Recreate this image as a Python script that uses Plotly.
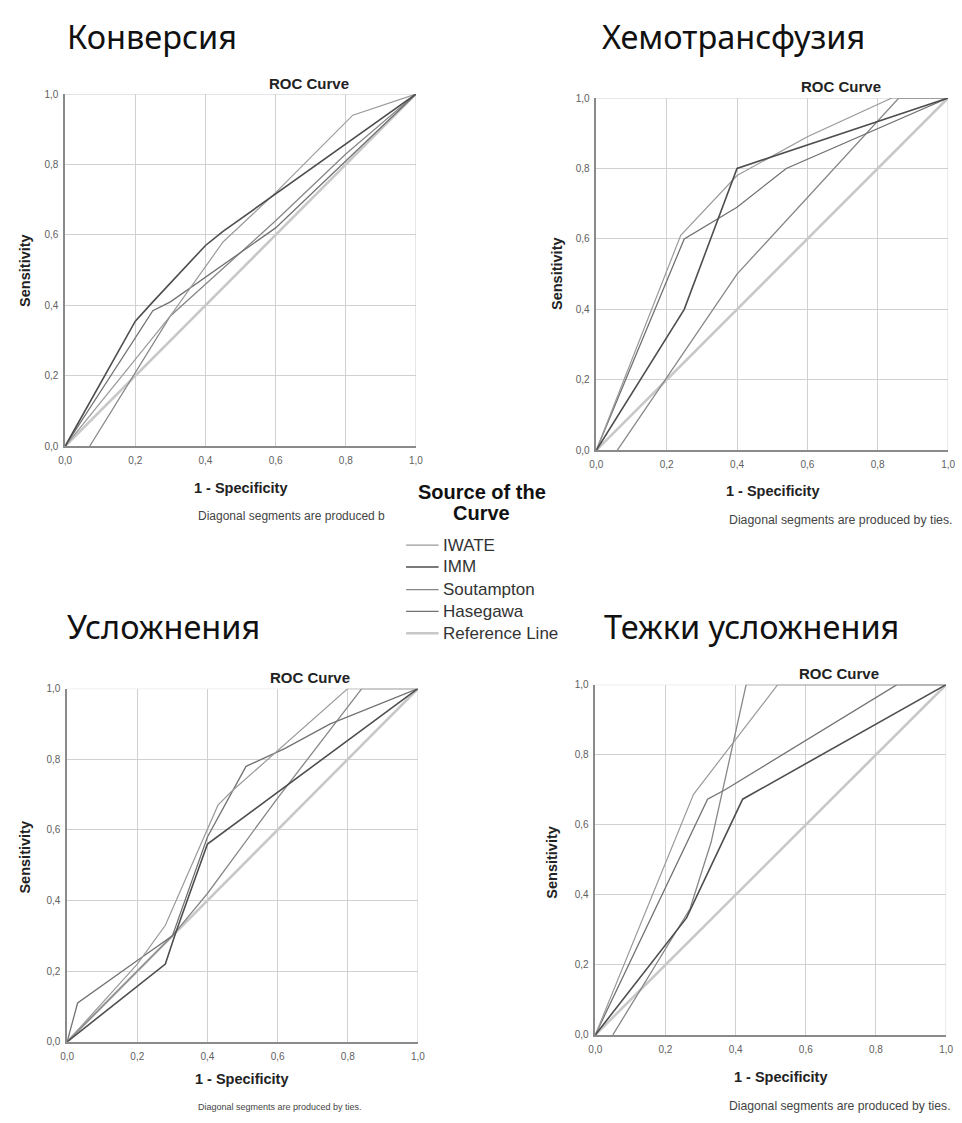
import plotly.graph_objects as go

W, H = 962, 1123

# Tick positions / labels (comma decimal)
TICKS = [0.0, 0.2, 0.4, 0.6, 0.8, 1.0]
TICK_LABELS = ["0,0", "0,2", "0,4", "0,6", "0,8", "1,0"]

SERIES = ["IWATE", "IMM", "Soutampton", "Hasegawa", "Reference Line"]
COLORS = {"IWATE": "#9a9a9a", "IMM": "#4e4e4e", "Soutampton": "#878787",
          "Hasegawa": "#727272", "Reference Line": "#c8c8c8"}
WIDTHS = {"IWATE": 1.2, "IMM": 1.6, "Soutampton": 1.3, "Hasegawa": 1.3,
          "Reference Line": 2.6}

REF_X = [0.0, 1.0]
REF_Y = [0.0, 1.0]

# Конверсия
conv_iwate_x = [0.0, 0.30, 0.40, 0.45, 0.60, 0.82, 1.0]
conv_iwate_y = [0.0, 0.37, 0.51, 0.58, 0.72, 0.94, 1.0]
conv_imm_x = [0.0, 0.20, 0.25, 0.40, 0.45, 1.0]
conv_imm_y = [0.0, 0.355, 0.41, 0.57, 0.61, 1.0]
conv_sout_x = [0.07, 0.30, 0.40, 0.60, 0.80, 1.0]
conv_sout_y = [0.0, 0.37, 0.46, 0.64, 0.83, 1.0]
conv_hase_x = [0.0, 0.25, 0.30, 0.40, 0.60, 0.80, 1.0]
conv_hase_y = [0.0, 0.385, 0.41, 0.48, 0.62, 0.81, 1.0]

# Хемотрансфузия
hemo_iwate_x = [0.0, 0.24, 0.40, 0.60, 0.84, 1.0]
hemo_iwate_y = [0.0, 0.61, 0.78, 0.89, 1.0, 1.0]
hemo_imm_x = [0.0, 0.25, 0.40, 1.0]
hemo_imm_y = [0.0, 0.40, 0.80, 1.0]
hemo_sout_x = [0.06, 0.40, 0.86, 1.0]
hemo_sout_y = [0.0, 0.50, 1.0, 1.0]
hemo_hase_x = [0.0, 0.25, 0.40, 0.54, 1.0]
hemo_hase_y = [0.0, 0.60, 0.69, 0.80, 1.0]

# Усложнения
comp_iwate_x = [0.0, 0.20, 0.28, 0.43, 0.47, 0.80, 1.0]
comp_iwate_y = [0.0, 0.22, 0.33, 0.67, 0.71, 1.0, 1.0]
comp_imm_x = [0.0, 0.28, 0.31, 0.40, 1.0]
comp_imm_y = [0.0, 0.22, 0.31, 0.56, 1.0]
comp_sout_x = [0.0, 0.30, 0.40, 0.60, 0.84, 1.0]
comp_sout_y = [0.0, 0.30, 0.42, 0.69, 1.0, 1.0]
comp_hase_x = [0.0, 0.03, 0.20, 0.30, 0.40, 0.51, 0.62, 0.75, 1.0]
comp_hase_y = [0.0, 0.11, 0.23, 0.30, 0.58, 0.78, 0.83, 0.90, 1.0]

# Тежки усложнения
sev_iwate_x = [0.0, 0.28, 0.52, 1.0]
sev_iwate_y = [0.0, 0.687, 1.0, 1.0]
sev_imm_x = [0.0, 0.26, 0.42, 1.0]
sev_imm_y = [0.0, 0.334, 0.673, 1.0]
sev_sout_x = [0.05, 0.27, 0.33, 0.43, 1.0]
sev_sout_y = [0.0, 0.36, 0.55, 1.0, 1.0]
sev_hase_x = [0.0, 0.32, 0.37, 0.86, 1.0]
sev_hase_y = [0.0, 0.673, 0.70, 1.0, 1.0]

PANELS = [
    {"title": "Конверсия", "note": "Diagonal segments are produced b",
     "box": (59, 415, 89, 445),
     "curves": {"IWATE": (conv_iwate_x, conv_iwate_y), "IMM": (conv_imm_x, conv_imm_y),
                "Soutampton": (conv_sout_x, conv_sout_y), "Hasegawa": (conv_hase_x, conv_hase_y)}},
    {"title": "Хемотрансфузия", "note": "Diagonal segments are produced by ties.",
     "box": (598, 955, 93, 449),
     "curves": {"IWATE": (hemo_iwate_x, hemo_iwate_y), "IMM": (hemo_imm_x, hemo_imm_y),
                "Soutampton": (hemo_sout_x, hemo_sout_y), "Hasegawa": (hemo_hase_x, hemo_hase_y)}},
    {"title": "Усложнения", "note": "Diagonal segments are produced by ties.",
     "box": (61, 417, 690, 1047),
     "curves": {"IWATE": (comp_iwate_x, comp_iwate_y), "IMM": (comp_imm_x, comp_imm_y),
                "Soutampton": (comp_sout_x, comp_sout_y), "Hasegawa": (comp_hase_x, comp_hase_y)}},
    {"title": "Тежки усложнения", "note": "Diagonal segments are produced by ties.",
     "box": (597, 953, 686, 1040),
     "curves": {"IWATE": (sev_iwate_x, sev_iwate_y), "IMM": (sev_imm_x, sev_imm_y),
                "Soutampton": (sev_sout_x, sev_sout_y), "Hasegawa": (sev_hase_x, sev_hase_y)}},
]

# text placements in pixels (centres)
TEXT_POS = [
    dict(title=(147, 31), roc=(306, 78), xt=(237, 487), note=(289, 516), yt=(18, 267)),
    dict(title=(737, 31), roc=(846, 81), xt=(777, 490), note=(846, 520), yt=(558, 270)),
    dict(title=(159, 627), roc=(307, 679), xt=(238, 1085), note=(277, 1113), yt=(18, 860)),
    dict(title=(756, 627), roc=(844, 675), xt=(785, 1083), note=(845, 1112), yt=(553, 865)),
]
NOTE_SIZES = [12, 12.3, 9, 12.2]

def px(x):
    return x / W

def py(y):
    return 1 - y / H

def note(text, x, y, size, bold=False, family="Liberation Sans, Arial", color="#222222",
         xanchor="center", angle=0):
    return dict(text=f"<b>{text}</b>" if bold else text, x=px(x), y=py(y),
                xref="paper", yref="paper", xanchor=xanchor, yanchor="middle",
                textangle=angle, showarrow=False, align="center",
                font=dict(family=family, size=size, color=color))

fig = go.Figure()
annotations = []
shapes = []

for i, p in enumerate(PANELS):
    n = i + 1
    xa = "x" if n == 1 else f"x{n}"
    ya = "y" if n == 1 else f"y{n}"
    x0, x1, y0, y1 = p["box"]
    axis_common = dict(range=[0, 1], tickvals=TICKS, ticktext=TICK_LABELS,
                       showgrid=True, gridcolor="#d0d0d0", gridwidth=1,
                       zeroline=False, showline=True, linecolor="#8a8a8a",
                       linewidth=1.5, ticks="", fixedrange=True,
                       tickfont=dict(family="Liberation Sans, Arial", size=10, color="#606060"))
    fig.update_layout(**{
        ("xaxis" if n == 1 else f"xaxis{n}"): dict(domain=[px(x0), px(x1)], anchor=ya,
                                                    ticklabelstandoff=4, **axis_common),
        ("yaxis" if n == 1 else f"yaxis{n}"): dict(domain=[py(y1), py(y0)], anchor=xa,
                                                    ticklabelstandoff=3, **axis_common),
    })
    # grid lines along the far edges of the plot square
    shapes.append(dict(type="line", xref=xa, yref=f"{ya} domain", x0=1, x1=1, y0=0, y1=1,
                       line=dict(color="#d0d0d0", width=1), layer="below"))
    shapes.append(dict(type="line", xref=f"{xa} domain", yref=ya, x0=0, x1=1, y0=1, y1=1,
                       line=dict(color="#d0d0d0", width=1), layer="below"))
    # reference line first, under the curves
    fig.add_trace(go.Scatter(x=REF_X, y=REF_Y, mode="lines", xaxis=xa, yaxis=ya,
                             line=dict(color=COLORS["Reference Line"], width=WIDTHS["Reference Line"]),
                             name="Reference Line", showlegend=False, hoverinfo="skip"))
    for s in ["Soutampton", "Hasegawa", "IWATE", "IMM"]:
        cx, cy = p["curves"][s]
        fig.add_trace(go.Scatter(x=cx, y=cy, mode="lines", xaxis=xa, yaxis=ya,
                                 line=dict(color=COLORS[s], width=WIDTHS[s]),
                                 name=s, showlegend=False))
    t = TEXT_POS[i]
    annotations.append(note(p["title"], *t["title"], 32.5, family="Noto Sans", color="#111111"))
    annotations.append(note("ROC Curve", *t["roc"], 15, bold=True))
    annotations.append(note("1 - Specificity", *t["xt"], 14.5, bold=True))
    annotations.append(note(p["note"], *t["note"], NOTE_SIZES[i], color="#444444"))
    annotations.append(note("Sensitivity", *t["yt"], 14.5, bold=True, angle=-90))

# legend drawn between the panels
annotations.append(note("Source of the", 482, 491, 20, bold=True, color="#111111"))
annotations.append(note("Curve", 482, 512, 20, bold=True, color="#111111"))
LEG_Y = [545, 567, 590, 612, 634]
for s, ly in zip(SERIES, LEG_Y):
    shapes.append(dict(type="line", xref="paper", yref="paper",
                       x0=px(405), x1=px(438), y0=py(ly), y1=py(ly),
                       line=dict(color=COLORS[s], width=WIDTHS[s])))
    annotations.append(note(s, 440, ly, 17, color="#333333", xanchor="left"))

fig.update_layout(width=W, height=H, autosize=False,
                  margin=dict(l=0, r=0, t=0, b=0),
                  paper_bgcolor="white", plot_bgcolor="white",
                  separators=", ", annotations=annotations, shapes=shapes,
                  showlegend=False)

fig.write_html("out.html")
